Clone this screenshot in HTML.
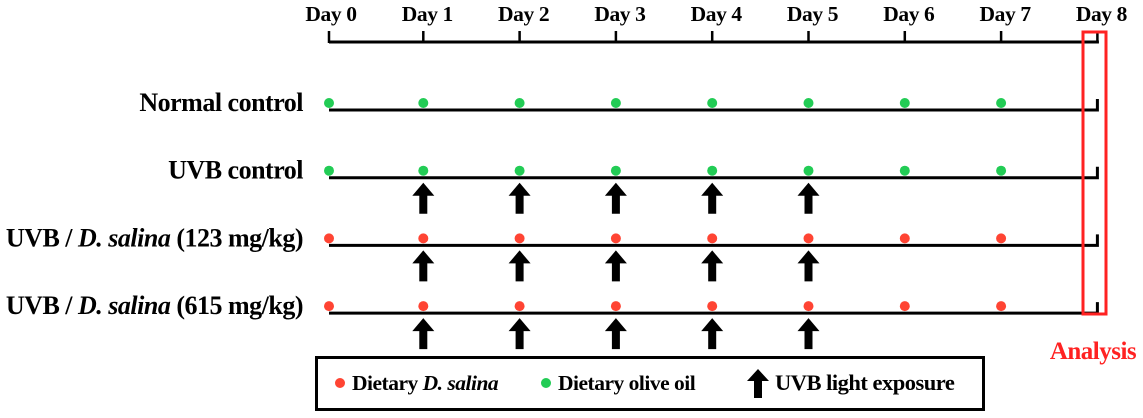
<!DOCTYPE html>
<html><head><meta charset="utf-8"><style>
body{margin:0;background:#fff}
svg{display:block;font-family:"Liberation Serif",serif;font-weight:bold}
</style></head><body>
<svg width="1143" height="418" viewBox="0 0 1143 418">
<g id="axis"></g>
<g id="rows"></g>
<rect x="1083" y="32" width="23" height="282" fill="none" stroke="#f22" stroke-width="3"/>
<text x="1093" y="359" text-anchor="middle" font-size="25" fill="#f22" letter-spacing="-0.5">Analysis</text>
<g>
<rect x="316.5" y="357.5" width="667" height="52" fill="none" stroke="#000" stroke-width="3"/>
<circle cx="340" cy="383" r="5" fill="#f43"/>
<text x="352" y="390" font-size="21.5" letter-spacing="-0.5">Dietary <tspan font-style="italic">D. salina</tspan></text>
<circle cx="546" cy="383" r="5" fill="#2c5"/>
<text x="558" y="390" font-size="21.5" letter-spacing="-0.5">Dietary olive oil</text>
<path d="M758 369 L769 381 L762 381 L762 398 L754 398 L754 381 L747 381 Z" fill="#000"/>
<text x="775" y="390" font-size="22.5" letter-spacing="-0.5">UVB light exposure</text>
</g>
</svg>
<script>
const days=[0,1,2,3,4,5,6,7,8];
const dayLabels=["Day 0","Day 1","Day 2","Day 3","Day 4","Day 5","Day 6","Day 7","Day 8"];
const groups=["Normal control","UVB control","UVB / D. salina (123 mg/kg)","UVB / D. salina (615 mg/kg)"];
const dietType=["olive","olive","salina","salina"];
const dietDays=[0,1,2,3,4,5,6,7];
const uvbGroups=[false,true,true,true];
const uvbDays=[1,2,3,4,5];
const NS="http://www.w3.org/2000/svg";
const x=d=>327+d*96.3;
const rowY=i=>110+i*67.7;
function mk(tag,attrs,parent){const e=document.createElementNS(NS,tag);for(const k in attrs)e.setAttribute(k,attrs[k]);parent.appendChild(e);return e;}
const ax=document.getElementById('axis');
let l=mk('line',{x1:x(0)+2,x2:x(8)+1.5,y1:42,y2:42,stroke:'#000','stroke-width':3},ax);


days.forEach((d,i)=>{
 const t=mk('line',{x1:x(d)+(d===0?2:0),x2:x(d)+(d===0?2:0),y1:31,y2:43,stroke:'#000','stroke-width':2.5},ax);
 
 
 const tx=mk('text',{x:x(d)+4,y:21,'text-anchor':'middle','font-size':21.5,'letter-spacing':'-0.4'},ax);
 tx.textContent=dayLabels[i];
 
 
});
const rows=document.getElementById('rows');
groups.forEach((g,i)=>{
 const y=rowY(i);
 const ln=mk('path',{d:`M${x(0)+2} ${y} H${x(8)} V${y-11}`,fill:'none',stroke:'#000','stroke-width':3},rows);
 
 
 const tx=mk('text',{x:303,y:y+1,'text-anchor':'end','font-size':26,'letter-spacing':'-0.5'},rows);
 const m=g.match(/^(UVB \/ )(D\. salina)(.*)$/);
 if(m){tx.appendChild(document.createTextNode(m[1]));const ts=mk('tspan',{'font-style':'italic'},tx);ts.textContent=m[2];tx.appendChild(document.createTextNode(m[3]));}
 else tx.textContent=g;
 
 
 dietDays.forEach(d=>{
  const c=mk('circle',{cx:x(d)+(d===0?2:0),cy:y-7,r:5,fill:dietType[i]==='olive'?'#2c5':'#f43'},rows);
  
  
 });
 if(uvbGroups[i]) uvbDays.forEach(d=>{
  const cx=x(d),t=y+5;
  const a=mk('path',{d:`M${cx} ${t} L${cx+11} ${t+13} L${cx+4} ${t+13} L${cx+4} ${t+31} L${cx-4} ${t+31} L${cx-4} ${t+13} L${cx-11} ${t+13} Z`,fill:'#000'},rows);
  
  
 });
});
</script>
</body></html>
